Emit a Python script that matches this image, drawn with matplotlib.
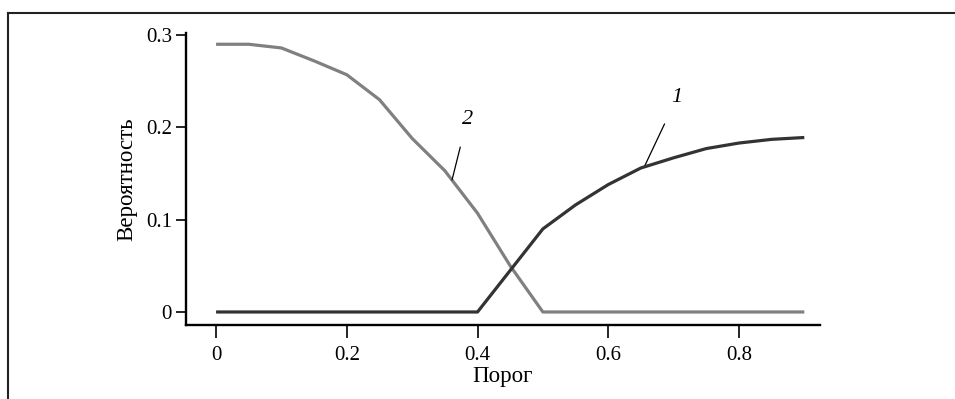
import matplotlib
matplotlib.use("Agg")
import matplotlib.pyplot as plt
from matplotlib.lines import Line2D

thresholds = [0.0, 0.05, 0.1, 0.15, 0.2, 0.25, 0.3, 0.35, 0.4, 0.45, 0.5,
              0.55, 0.6, 0.65, 0.7, 0.75, 0.8, 0.85, 0.9]
curve1 = [0, 0, 0, 0, 0, 0, 0, 0, 0, 0.045, 0.090,
          0.116, 0.138, 0.156, 0.167, 0.177, 0.183, 0.187, 0.189]
curve2 = [0.290, 0.290, 0.286, 0.272, 0.257, 0.230, 0.188, 0.153, 0.107, 0.050, 0.0,
          0, 0, 0, 0, 0, 0, 0, 0]
xticks = [0, 0.2, 0.4, 0.6, 0.8]
xtick_labels = ["0", "0.2", "0.4", "0.6", "0.8"]
yticks = [0, 0.1, 0.2, 0.3]
ytick_labels = ["0", "0.1", "0.2", "0.3"]

plt.rcParams['font.family'] = ['Liberation Serif', 'DejaVu Serif']

fig = plt.figure(figsize=(9.55, 3.99), dpi=100)
ax = fig.add_axes([186/955, 1-325/399, (820-186)/955, (325-33)/399])

ax.plot(thresholds, curve2, color='#808080', lw=2.3, solid_capstyle='butt', zorder=3)
ax.plot(thresholds, curve1, color='#333333', lw=2.3, solid_capstyle='butt', zorder=4)

ax.set_xlim(-0.046, 0.924)
ax.set_ylim(-0.0141, 0.3022)
ax.set_xticks(xticks)
ax.set_xticklabels(xtick_labels)
ax.set_yticks(yticks)
ax.set_yticklabels(ytick_labels)
for s in ['top', 'right']:
    ax.spines[s].set_visible(False)
for s in ['left', 'bottom']:
    ax.spines[s].set_linewidth(1.7)
ax.tick_params(axis='x', direction='out', length=9, width=1.2, labelsize=15, pad=6)
ax.tick_params(axis='y', direction='out', length=7, width=1.2, labelsize=15, pad=3)
ax.set_xlabel('Порог', fontsize=16.5, labelpad=1)
ax.set_ylabel('Вероятность', fontsize=16.5, labelpad=6)

# curve labels with leader lines
ax.annotate('1', xy=(0.655, 0.157), xytext=(0.705, 0.232), fontsize=16, style='italic',
            ha='center', va='center',
            arrowprops=dict(arrowstyle='-', color='black', lw=0.9, shrinkA=11, shrinkB=0))
ax.annotate('2', xy=(0.361, 0.143), xytext=(0.384, 0.208), fontsize=16, style='italic',
            ha='center', va='center',
            arrowprops=dict(arrowstyle='-', color='black', lw=0.9, shrinkA=11, shrinkB=0))

# outer frame (left and top)
fig.add_artist(Line2D([8/955, 8/955], [0, 1-13/399], transform=fig.transFigure,
                      color='#222222', lw=1.5))
fig.add_artist(Line2D([8/955, 1], [1-13/399, 1-13/399], transform=fig.transFigure,
                      color='#222222', lw=1.5))

fig.savefig('out.png', dpi=100)
